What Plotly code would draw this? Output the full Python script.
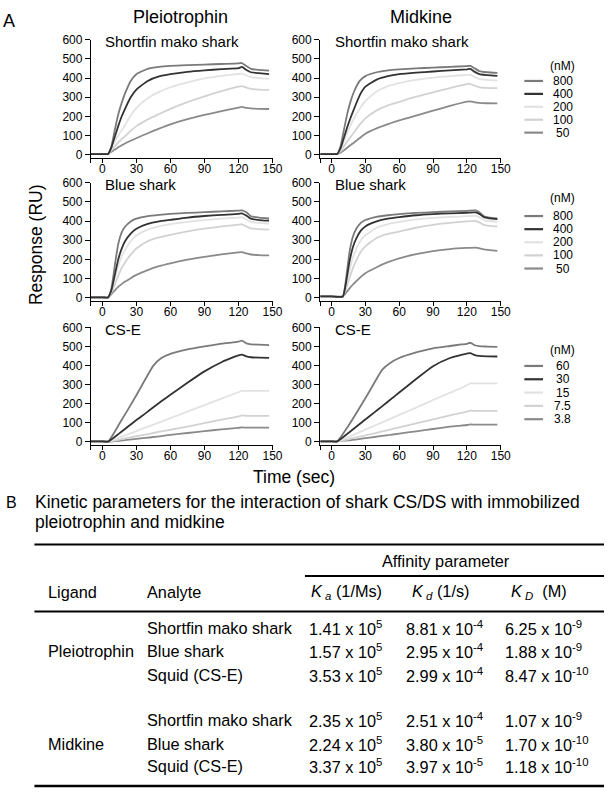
import plotly.graph_objects as go

W, H = 616, 792
FONT = "Liberation Sans, Arial, Helvetica, sans-serif"

# ---------------- data ----------------
conc_shark = ["800", "400", "200", "100", "50"]
conc_cse = ["60", "30", "15", "7.5", "3.8"]

x_tickvals = [0, 30, 60, 90, 120, 150]
x_ticktext = ["0", "30", "60", "90", "120", "150"]
y_tickvals = [0, 100, 200, 300, 400, 500, 600]

t_std = [-10, 0, 5, 8, 11, 14, 17, 20, 25, 30, 40, 50, 60, 75, 90, 105, 120, 123, 127, 131, 138, 147]
t_mk_blue = [-10, 0, 10, 12, 14, 16, 19, 22, 26, 30, 40, 50, 60, 75, 90, 105, 120, 128, 131, 135, 140, 147]
t_cse = [-10, 0, 5, 15, 30, 38, 45, 52, 60, 75, 90, 105, 115, 120, 123, 127, 131, 138, 147]

# Pleiotrophin - shortfin mako shark
ptn_mako_800 = [5, 5, 5, 45, 130, 210, 270, 320, 385, 420, 448, 458, 463, 467, 470, 473, 476, 478, 462, 448, 442, 438]
ptn_mako_400 = [5, 5, 5, 40, 95, 150, 200, 240, 300, 340, 385, 408, 420, 432, 440, 446, 451, 458, 442, 430, 425, 420]
ptn_mako_200 = [5, 5, 5, 35, 70, 100, 128, 155, 205, 245, 295, 328, 352, 378, 398, 411, 421, 423, 413, 405, 400, 396]
ptn_mako_100 = [5, 5, 5, 25, 45, 65, 82, 98, 125, 150, 185, 213, 240, 275, 305, 332, 355, 358, 350, 344, 340, 338]
ptn_mako_50 = [5, 5, 5, 17, 28, 40, 50, 60, 74, 87, 113, 137, 159, 186, 208, 228, 246, 250, 245, 242, 240, 239]

# Pleiotrophin - blue shark
ptn_blue_800 = [3, 3, 3, 50, 170, 280, 340, 370, 398, 412, 425, 432, 437, 442, 446, 450, 454, 455, 445, 425, 418, 413]
ptn_blue_400 = [3, 3, 3, 40, 120, 200, 255, 295, 335, 360, 385, 398, 406, 418, 426, 432, 437, 440, 428, 412, 405, 402]
ptn_blue_200 = [3, 3, 3, 35, 100, 165, 215, 250, 295, 325, 355, 372, 384, 396, 405, 412, 418, 420, 408, 396, 390, 386]
ptn_blue_100 = [3, 3, 3, 30, 70, 115, 155, 185, 225, 257, 295, 315, 328, 346, 360, 372, 381, 383, 372, 362, 358, 355]
ptn_blue_50 = [3, 3, 3, 20, 40, 58, 72, 85, 103, 120, 145, 165, 180, 199, 214, 227, 237, 238, 232, 226, 223, 221]

# Midkine - shortfin mako shark
mk_mako_800 = [5, 5, 5, 45, 130, 215, 280, 330, 385, 410, 430, 440, 445, 450, 454, 458, 462, 463, 450, 436, 430, 427]
mk_mako_400 = [5, 5, 5, 35, 90, 145, 195, 240, 310, 355, 392, 410, 420, 428, 434, 440, 445, 447, 432, 420, 415, 411]
mk_mako_200 = [5, 5, 5, 28, 70, 115, 155, 190, 240, 280, 330, 358, 374, 390, 402, 410, 416, 417, 405, 395, 390, 386]
mk_mako_100 = [5, 5, 5, 20, 45, 70, 95, 118, 158, 190, 232, 258, 276, 303, 326, 348, 368, 370, 360, 352, 349, 347]
mk_mako_50 = [5, 5, 5, 12, 24, 38, 52, 65, 88, 110, 138, 160, 180, 205, 230, 255, 277, 279, 274, 271, 269, 268]

# Midkine - blue shark
mk_blue_800 = [8, 8, 8, 60, 150, 240, 320, 360, 390, 405, 422, 430, 436, 442, 446, 450, 453, 455, 445, 425, 418, 414]
mk_blue_400 = [8, 8, 8, 50, 120, 190, 265, 310, 350, 372, 398, 412, 420, 430, 436, 440, 443, 445, 437, 420, 414, 410]
mk_blue_200 = [8, 8, 8, 45, 95, 145, 210, 255, 300, 326, 365, 384, 395, 408, 416, 421, 425, 427, 420, 405, 400, 396]
mk_blue_100 = [8, 8, 8, 35, 70, 105, 155, 195, 240, 268, 312, 333, 345, 365, 380, 390, 398, 400, 393, 380, 375, 372]
mk_blue_50 = [8, 8, 8, 20, 35, 50, 70, 88, 110, 129, 160, 186, 206, 228, 244, 254, 260, 262, 258, 252, 249, 245]

# Pleiotrophin - CS-E
ptn_cse_60 = [3, 3, 2, 95, 245, 330, 400, 440, 462, 485, 501, 515, 522, 526, 531, 517, 512, 510, 508]
ptn_cse_30 = [3, 3, 2, 45, 115, 150, 182, 213, 247, 310, 370, 418, 443, 454, 458, 448, 444, 442, 441]
ptn_cse_15 = [3, 3, 2, 23, 57, 75, 91, 107, 125, 159, 193, 227, 250, 261, 268, 268, 268, 268, 268]
ptn_cse_7_5 = [3, 3, 2, 12, 30, 39, 47, 55, 64, 81, 99, 117, 128, 134, 139, 137, 137, 137, 137]
ptn_cse_3_8 = [3, 3, 2, 6, 16, 21, 26, 31, 37, 47, 57, 66, 71, 74, 76, 75, 75, 75, 75]

# Midkine - CS-E
mk_cse_60 = [3, 3, 3, 85, 229, 310, 379, 414, 440, 469, 491, 503, 511, 514, 520, 507, 502, 500, 498]
mk_cse_30 = [3, 3, 3, 47, 118, 155, 188, 221, 259, 330, 397, 440, 457, 463, 466, 455, 451, 449, 448]
mk_cse_15 = [3, 3, 3, 25, 65, 85, 103, 121, 142, 180, 220, 258, 283, 297, 307, 307, 307, 307, 307]
mk_cse_7_5 = [3, 3, 3, 14, 35, 45, 55, 65, 76, 97, 118, 139, 153, 159, 164, 163, 163, 163, 163]
mk_cse_3_8 = [3, 3, 3, 8, 20, 26, 32, 37, 44, 56, 68, 80, 86, 89, 92, 91, 91, 91, 91]

# Table B
ligands = ["Pleiotrophin", "Midkine"]
analytes = ["Shortfin mako shark", "Blue shark", "Squid (CS-E)"]
ka_mant = [1.41, 1.57, 3.53, 2.35, 2.24, 3.37]
ka_exp = [5, 5, 5, 5, 5, 5]
kd_mant = [8.81, 2.95, 2.99, 2.51, 3.80, 3.97]
kd_exp = [-4, -4, -4, -4, -5, -5]
KD_mant = [6.25, 1.88, 8.47, 1.07, 1.70, 1.18]
KD_exp = [-9, -9, -10, -9, -10, -10]

# ---------------- styling ----------------
colors = ["#7a7a7a", "#333333", "#e2e2e2", "#d2d2d2", "#8a8a8a"]
col_px = [(92.5, 277.0), (325.5, 509.0)]
row_px = [(33.0, 153.0), (178.0, 298.0), (325.0, 444.0)]


def fx(x):
    return x / W


def fy(y):
    return 1 - y / H


panels = [
    (0, 0, t_std, [ptn_mako_800, ptn_mako_400, ptn_mako_200, ptn_mako_100, ptn_mako_50], "Shortfin mako shark"),
    (0, 1, t_std, [mk_mako_800, mk_mako_400, mk_mako_200, mk_mako_100, mk_mako_50], "Shortfin mako shark"),
    (1, 0, t_std, [ptn_blue_800, ptn_blue_400, ptn_blue_200, ptn_blue_100, ptn_blue_50], "Blue shark"),
    (1, 1, t_mk_blue, [mk_blue_800, mk_blue_400, mk_blue_200, mk_blue_100, mk_blue_50], "Blue shark"),
    (2, 0, t_cse, [ptn_cse_60, ptn_cse_30, ptn_cse_15, ptn_cse_7_5, ptn_cse_3_8], "CS-E"),
    (2, 1, t_cse, [mk_cse_60, mk_cse_30, mk_cse_15, mk_cse_7_5, mk_cse_3_8], "CS-E"),
]

fig = go.Figure()
layout = dict(
    width=W, height=H, margin=dict(l=0, r=0, t=0, b=0),
    paper_bgcolor="white", plot_bgcolor="white", showlegend=False,
    font=dict(family=FONT, color="black"),
)
annotations = []
shapes = []


def ann(text, x, y, size, xanchor="left", yanchor="middle", **kw):
    annotations.append(dict(text=text, x=fx(x), y=fy(y), xref="paper", yref="paper",
                            xanchor=xanchor, yanchor=yanchor, showarrow=False,
                            font=dict(family=FONT, size=size, color="black"), **kw))


def hline(x0, x1, y, w, color="black"):
    shapes.append(dict(type="line", xref="paper", yref="paper", x0=fx(x0), x1=fx(x1),
                       y0=fy(y), y1=fy(y), line=dict(color=color, width=w)))


for i, (r, c, t, series, label) in enumerate(panels):
    n = i + 1
    sfx = "" if n == 1 else str(n)
    order = [4, 3, 2, 0, 1]
    for k in order:
        fig.add_trace(go.Scatter(
            x=t, y=series[k], mode="lines",
            line=dict(color=colors[k], width=1.8, shape="spline", smoothing=0.5),
            xaxis="x" + sfx, yaxis="y" + sfx, hoverinfo="skip", showlegend=False))
    x0, x1 = col_px[c]
    y0, y1 = row_px[r]
    layout["xaxis" + sfx] = dict(
        domain=[fx(x0), fx(x1)], range=[-10, 150], anchor="y" + sfx,
        showline=True, linecolor="black", linewidth=1.3, ticks="outside", ticklen=4,
        tickwidth=1.3, tickcolor="black", tickvals=x_tickvals, ticktext=x_ticktext,
        ticklabelstandoff=-4,
        minor=dict(tickvals=[-10], ticks="outside", ticklen=4, tickwidth=1.3, tickcolor="black"),
        showgrid=False, zeroline=False, tickfont=dict(size=12, family=FONT, color="black"))
    layout["yaxis" + sfx] = dict(
        domain=[fy(y1), fy(y0)], range=[-15, 600], anchor="x" + sfx,
        showline=True, linecolor="black", linewidth=1.3, ticks="outside", ticklen=5,
        tickwidth=1.3, tickcolor="black", tickvals=y_tickvals,
        showgrid=False, zeroline=False, tickfont=dict(size=12, family=FONT, color="black"))
    ann(label, x0 + 12.5, y0 + 2, 15)

# legends (right of the right column)
legend_rows = [(60, 75, 13.1, conc_shark), (194, 212, 13.3, conc_shark), (348, 364, 13.5, conc_cse)]
for ty, fy0, step, labels in legend_rows:
    ann("(nM)", 572, ty, 12, xanchor="center")
    for j, lab in enumerate(labels):
        yy = fy0 + j * step
        hline(533, 552, yy, 2.2, colors[j])
        ann(lab, 572, yy, 12, xanchor="center")

# panel titles
ann("A", 1, 14, 18)
ann("Pleiotrophin", 183, 10, 18, xanchor="center")
ann("Midkine", 428, 10, 18, xanchor="center")
ann("Response (RU)", 36, 241, 17.5, xanchor="center", textangle=-90)
ann("Time (sec)", 299, 477, 17.5, xanchor="center")

# ---------------- table B ----------------
TS = 16.3
ann("B", 4, 502, 16)
ann("Kinetic parameters for the interaction of shark CS/DS with immobilized", 34, 502, 17.5)
ann("pleiotrophin and midkine", 34, 522, 17.5)
hline(35, 614, 545, 2)
ann("Affinity parameter", 453, 562, 16.3, xanchor="center")
hline(310, 614, 577, 1.8)
ann("Ligand", 47, 593, TS)
ann("Analyte", 147, 593, TS)
ann("<i>K</i><sub>\u00a0<i>a</i></sub>\u00a0(1/Ms)", 352, 593, TS, xanchor="center")
ann("<i>K</i><sub>\u00a0<i>d</i></sub>\u00a0(1/s)", 448, 593, TS, xanchor="center")
ann("<i>K</i><sub>\u00a0<i>D</i></sub>\u00a0\u00a0(M)", 548, 593, TS, xanchor="center")
hline(35, 614, 613, 2)

row_y = [630, 653, 677, 723, 747, 770]
for g, lig in enumerate(ligands):
    ann(lig, 47, row_y[g * 3 + 1], TS)
for idx in range(6):
    yy = row_y[idx]
    ann(analytes[idx % 3], 147, yy, TS)
    ann(f"{ka_mant[idx]:.2f} x 10<sup>{ka_exp[idx]}</sup>", 312, yy, TS)
    ann(f"{kd_mant[idx]:.2f} x 10<sup>{kd_exp[idx]}</sup>", 411, yy, TS)
    ann(f"{KD_mant[idx]:.2f} x 10<sup>{KD_exp[idx]}</sup>", 511, yy, TS)
hline(35, 614, 790, 2.5)

layout["annotations"] = annotations
layout["shapes"] = shapes
fig.update_layout(**layout)
fig.write_html("out.html", config={"displayModeBar": False},
               post_script="document.body.style.margin='0px';document.body.style.overflow='hidden';")
